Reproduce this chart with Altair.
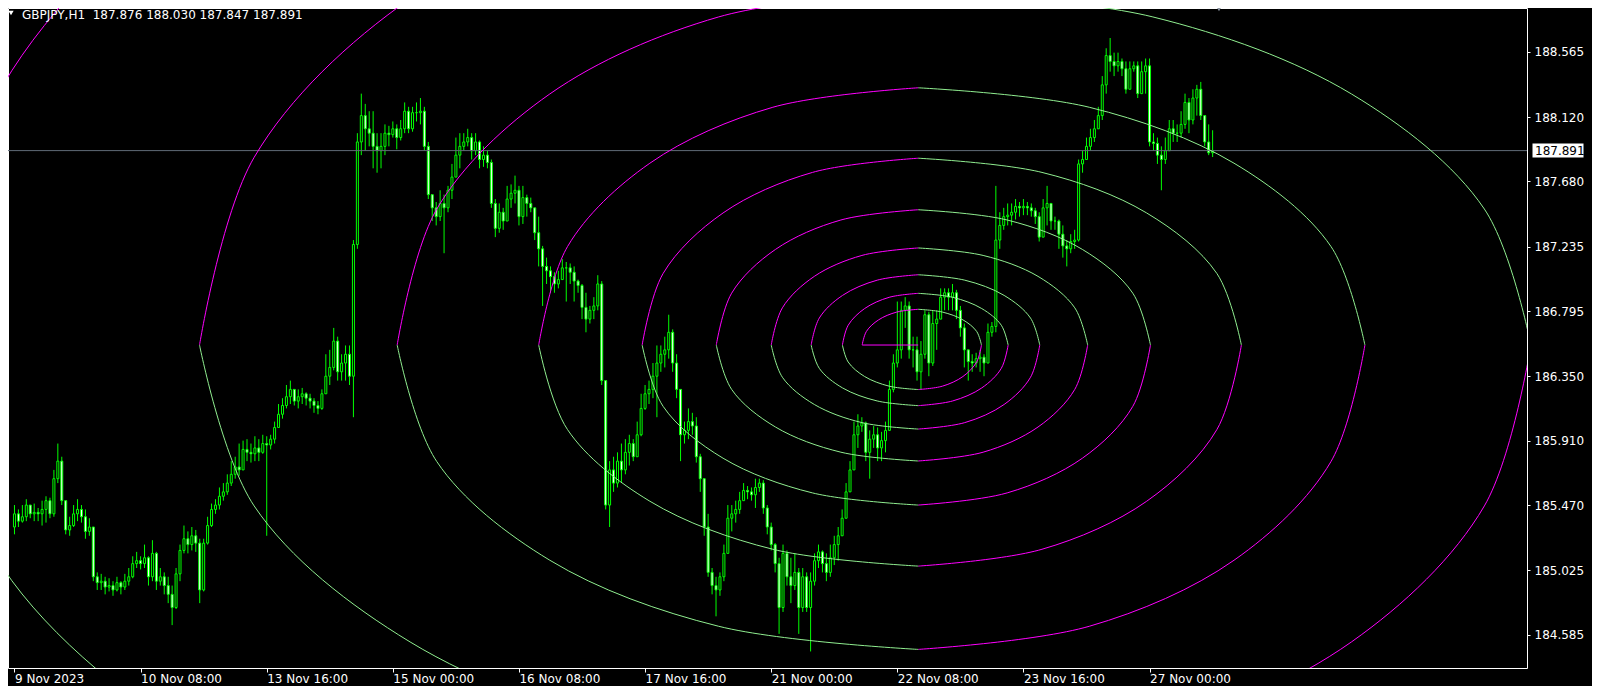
import altair as alt
import pandas as pd

# ---------------- data ----------------
TITLE = "GBPJPY,H1\u00a0\u00a0187.876 188.030 187.847 187.891"
LAST_PRICE = 187.891
PRICE_TICKS = [184.585, 185.025, 185.470, 185.910, 186.350, 186.795, 187.235, 187.680, 188.120, 188.565]
TIME_TICKS = [0, 32, 64, 96, 128, 160, 192, 224, 256, 288]
TIME_LABELS = ["9 Nov 2023", "10 Nov 08:00", "13 Nov 16:00", "15 Nov 00:00", "16 Nov 08:00",
               "17 Nov 16:00", "21 Nov 00:00", "22 Nov 08:00", "23 Nov 16:00", "27 Nov 00:00"]

CLOSE = [
    185.41, 185.36, 185.39, 185.47, 185.41, 185.42, 185.41, 185.44, 185.50, 185.41,
    185.65, 185.77, 185.50, 185.30, 185.33, 185.41, 185.44, 185.39, 185.29, 185.32,
    184.98, 184.94, 184.95, 184.91, 184.92, 184.89, 184.94, 184.91, 184.95, 184.98,
    185.07, 185.09, 185.07, 185.11, 184.98, 185.14, 184.95, 184.98, 184.92, 184.86,
    184.77, 185.00, 185.16, 185.24, 185.20, 185.26, 185.21, 184.89, 185.21, 185.33,
    185.44, 185.47, 185.53, 185.56, 185.62, 185.68, 185.73, 185.71, 185.85, 185.83,
    185.82, 185.86, 185.83, 185.89, 185.88, 185.92, 186.00, 186.09, 186.15, 186.21,
    186.26, 186.18, 186.21, 186.23, 186.20, 186.18, 186.15, 186.13, 186.23, 186.35,
    186.41, 186.59, 186.38, 186.44, 186.50, 186.35, 187.25, 187.95, 188.13, 188.04,
    188.01, 187.92, 187.89, 187.92, 188.01, 188.00, 188.04, 187.98, 188.04, 188.16,
    188.04, 188.15, 188.15, 188.16, 187.92, 187.59, 187.50, 187.44, 187.53, 187.50,
    187.62, 187.71, 187.86, 187.92, 187.95, 187.98, 187.89, 187.95, 187.83, 187.86,
    187.81, 187.53, 187.36, 187.47, 187.41, 187.56, 187.60, 187.62, 187.44, 187.57,
    187.53, 187.50, 187.33, 187.22, 187.10, 187.07, 187.03, 186.98, 187.01, 187.09,
    187.09, 187.06, 187.00, 186.97, 186.82, 186.74, 186.80, 186.83, 186.98, 186.32,
    185.47, 185.71, 185.62, 185.77, 185.71, 185.83, 185.89, 185.80, 185.95, 186.13,
    186.23, 186.26, 186.35, 186.44, 186.50, 186.53, 186.65, 186.44, 186.26, 185.95,
    185.98, 186.04, 186.01, 185.80, 185.65, 185.32, 185.01, 184.92, 184.89, 184.98,
    185.14, 185.38, 185.41, 185.44, 185.50, 185.57, 185.56, 185.54, 185.59, 185.62,
    185.45, 185.32, 185.20, 185.07, 184.77, 185.14, 184.98, 184.92, 185.01, 184.77,
    184.98, 184.77, 184.95, 185.09, 185.15, 185.07, 185.01, 185.11, 185.20, 185.26,
    185.38, 185.56, 185.71, 185.95, 186.01, 186.03, 185.83, 185.92, 185.95, 185.86,
    185.91, 185.98, 186.26, 186.44, 186.53, 186.80, 186.83, 186.53, 186.53, 186.38,
    186.50, 186.77, 186.44, 186.71, 186.74, 186.89, 186.92, 186.89, 186.92, 186.80,
    186.68, 186.53, 186.45, 186.44, 186.47, 186.48, 186.44, 186.65, 186.69, 187.28,
    187.38, 187.44, 187.45, 187.47, 187.51, 187.50, 187.51, 187.50, 187.48, 187.44,
    187.30, 187.50, 187.53, 187.41, 187.41, 187.32, 187.24, 187.22, 187.27, 187.28,
    187.80, 187.83, 187.92, 187.98, 188.04, 188.13, 188.34, 188.54, 188.50, 188.47,
    188.50, 188.45, 188.31, 188.45, 188.47, 188.28, 188.43, 188.47, 187.95, 187.94,
    187.86, 187.83, 187.89, 188.04, 188.01, 188.01, 188.07, 188.22, 188.10, 188.25,
    188.31, 188.13, 187.95, 187.876, 187.891,
]

OPEN = [
    185.32, 185.41, 185.36, 185.39, 185.47, 185.41, 185.42, 185.41, 185.44, 185.50,
    185.41, 185.65, 185.77, 185.50, 185.30, 185.33, 185.41, 185.44, 185.39, 185.29,
    185.32, 184.98, 184.94, 184.95, 184.91, 184.92, 184.89, 184.94, 184.91, 184.95,
    184.98, 185.07, 185.09, 185.07, 185.11, 184.98, 185.14, 184.95, 184.98, 184.92,
    184.86, 184.77, 185.00, 185.16, 185.24, 185.20, 185.26, 185.21, 184.89, 185.21,
    185.33, 185.44, 185.47, 185.53, 185.56, 185.62, 185.68, 185.73, 185.71, 185.85,
    185.83, 185.82, 185.86, 185.83, 185.89, 185.88, 185.92, 186.00, 186.09, 186.15,
    186.21, 186.26, 186.18, 186.21, 186.23, 186.20, 186.18, 186.15, 186.13, 186.23,
    186.35, 186.41, 186.59, 186.38, 186.44, 186.50, 186.35, 187.25, 187.95, 188.13,
    188.04, 188.01, 187.92, 187.89, 187.92, 188.01, 188.00, 188.04, 187.98, 188.04,
    188.16, 188.04, 188.15, 188.15, 188.16, 187.92, 187.59, 187.50, 187.44, 187.53,
    187.50, 187.62, 187.71, 187.86, 187.92, 187.95, 187.98, 187.89, 187.95, 187.83,
    187.86, 187.81, 187.53, 187.36, 187.47, 187.41, 187.56, 187.60, 187.62, 187.44,
    187.57, 187.53, 187.50, 187.33, 187.22, 187.10, 187.07, 187.03, 186.98, 187.01,
    187.09, 187.09, 187.06, 187.00, 186.97, 186.82, 186.74, 186.80, 186.83, 186.98,
    186.32, 185.47, 185.71, 185.62, 185.77, 185.71, 185.83, 185.89, 185.80, 185.95,
    186.13, 186.23, 186.26, 186.35, 186.44, 186.50, 186.53, 186.65, 186.44, 186.26,
    185.95, 185.98, 186.04, 186.01, 185.80, 185.65, 185.32, 185.01, 184.92, 184.89,
    184.98, 185.14, 185.38, 185.41, 185.44, 185.50, 185.57, 185.56, 185.54, 185.59,
    185.62, 185.45, 185.32, 185.20, 185.07, 184.77, 185.14, 184.98, 184.92, 185.01,
    184.77, 184.98, 184.77, 184.95, 185.09, 185.15, 185.07, 185.01, 185.11, 185.20,
    185.26, 185.38, 185.56, 185.71, 185.95, 186.01, 186.03, 185.83, 185.92, 185.95,
    185.86, 185.91, 185.98, 186.26, 186.44, 186.53, 186.80, 186.83, 186.53, 186.53,
    186.38, 186.50, 186.77, 186.44, 186.71, 186.74, 186.89, 186.92, 186.89, 186.92,
    186.80, 186.68, 186.53, 186.45, 186.44, 186.47, 186.48, 186.44, 186.65, 186.69,
    187.28, 187.38, 187.44, 187.45, 187.47, 187.51, 187.50, 187.51, 187.50, 187.48,
    187.44, 187.30, 187.50, 187.53, 187.41, 187.41, 187.32, 187.24, 187.22, 187.27,
    187.28, 187.80, 187.83, 187.92, 187.98, 188.04, 188.13, 188.34, 188.54, 188.50,
    188.47, 188.50, 188.45, 188.31, 188.45, 188.47, 188.28, 188.43, 188.47, 187.95,
    187.94, 187.86, 187.83, 187.89, 188.04, 188.01, 188.01, 188.07, 188.22, 188.10,
    188.25, 188.31, 188.13, 187.95, 187.876,
]

HIGH = [
    185.47, 185.44, 185.47, 185.51, 185.47, 185.48, 185.45, 185.50, 185.53, 185.52,
    185.71, 185.89, 185.80, 185.50, 185.39, 185.47, 185.51, 185.47, 185.44, 185.38,
    185.32, 185.01, 185.00, 184.98, 184.97, 184.95, 184.98, 184.95, 185.00, 185.04,
    185.12, 185.15, 185.12, 185.20, 185.12, 185.23, 185.15, 185.04, 185.01, 184.98,
    184.92, 185.04, 185.20, 185.33, 185.29, 185.32, 185.30, 185.24, 185.24, 185.39,
    185.48, 185.51, 185.59, 185.62, 185.68, 185.77, 185.80, 185.89, 185.91, 185.92,
    185.89, 185.94, 185.92, 185.95, 185.94, 185.95, 186.04, 186.16, 186.20, 186.29,
    186.32, 186.26, 186.26, 186.27, 186.24, 186.23, 186.20, 186.18, 186.26, 186.50,
    186.53, 186.68, 186.62, 186.50, 186.56, 186.56, 187.28, 188.01, 188.28, 188.21,
    188.16, 188.16, 188.01, 188.01, 188.07, 188.06, 188.09, 188.07, 188.10, 188.22,
    188.19, 188.19, 188.22, 188.25, 188.19, 187.95, 187.59, 187.54, 187.62, 187.59,
    187.65, 187.80, 187.98, 188.01, 188.01, 188.04, 188.01, 188.01, 187.96, 187.92,
    187.89, 187.83, 187.56, 187.53, 187.50, 187.65, 187.66, 187.72, 187.65, 187.65,
    187.59, 187.57, 187.50, 187.44, 187.24, 187.16, 187.10, 187.06, 187.07, 187.15,
    187.13, 187.12, 187.10, 187.01, 186.98, 186.92, 186.83, 186.89, 187.04, 187.00,
    186.32, 185.77, 185.80, 185.83, 185.89, 185.92, 185.95, 185.92, 186.04, 186.23,
    186.29, 186.32, 186.44, 186.56, 186.56, 186.62, 186.77, 186.67, 186.50, 186.26,
    186.04, 186.13, 186.10, 186.07, 185.82, 185.65, 185.41, 185.04, 184.98, 185.01,
    185.20, 185.47, 185.47, 185.50, 185.56, 185.62, 185.60, 185.59, 185.65, 185.65,
    185.64, 185.47, 185.35, 185.21, 185.11, 185.20, 185.16, 185.11, 185.14, 185.04,
    185.04, 185.01, 185.01, 185.14, 185.20, 185.16, 185.14, 185.20, 185.26, 185.32,
    185.44, 185.62, 185.77, 186.04, 186.09, 186.07, 186.04, 185.98, 186.01, 186.00,
    185.97, 186.04, 186.32, 186.50, 186.86, 186.86, 186.89, 186.86, 186.62, 186.62,
    186.59, 186.80, 186.79, 186.80, 186.80, 186.95, 186.95, 186.95, 186.98, 186.94,
    186.83, 186.71, 186.53, 186.50, 186.51, 186.53, 186.50, 186.71, 186.72, 187.65,
    187.47, 187.50, 187.53, 187.53, 187.56, 187.54, 187.56, 187.54, 187.53, 187.50,
    187.47, 187.56, 187.65, 187.53, 187.44, 187.42, 187.38, 187.28, 187.32, 187.35,
    187.83, 187.89, 187.98, 188.04, 188.10, 188.19, 188.40, 188.59, 188.66, 188.56,
    188.56, 188.52, 188.50, 188.50, 188.50, 188.50, 188.50, 188.52, 188.52, 188.01,
    187.98, 187.92, 187.98, 188.10, 188.10, 188.07, 188.16, 188.28, 188.25, 188.31,
    188.34, 188.36, 188.13, 188.07, 188.030,
]

LOW = [
    185.27, 185.32, 185.35, 185.36, 185.38, 185.36, 185.36, 185.33, 185.35, 185.38,
    185.39, 185.62, 185.47, 185.27, 185.26, 185.32, 185.36, 185.35, 185.24, 185.26,
    184.95, 184.89, 184.89, 184.86, 184.88, 184.85, 184.88, 184.86, 184.89, 184.92,
    184.97, 185.04, 185.03, 185.04, 184.92, 184.95, 184.89, 184.92, 184.86, 184.80,
    184.65, 184.76, 184.95, 185.14, 185.14, 185.16, 185.15, 184.80, 184.88, 185.20,
    185.32, 185.41, 185.44, 185.50, 185.54, 185.60, 185.65, 185.67, 185.71, 185.77,
    185.76, 185.77, 185.77, 185.82, 185.26, 185.85, 185.89, 186.00, 186.06, 186.13,
    186.16, 186.15, 186.13, 186.16, 186.15, 186.13, 186.10, 186.09, 186.12, 186.23,
    186.29, 186.39, 186.32, 186.32, 186.32, 186.29, 186.07, 187.22, 187.86, 187.89,
    187.92, 187.77, 187.74, 187.77, 187.86, 187.92, 187.98, 187.90, 187.96, 188.01,
    188.01, 188.02, 188.09, 188.07, 187.89, 187.56, 187.41, 187.38, 187.41, 187.19,
    187.47, 187.56, 187.71, 187.77, 187.89, 187.92, 187.83, 187.86, 187.77, 187.78,
    187.77, 187.50, 187.30, 187.33, 187.35, 187.41, 187.50, 187.53, 187.38, 187.39,
    187.44, 187.47, 187.28, 187.10, 186.83, 186.98, 186.92, 186.92, 186.95, 187.01,
    186.86, 186.98, 186.86, 186.92, 186.74, 186.65, 186.71, 186.74, 186.80, 186.29,
    185.44, 185.32, 185.56, 185.59, 185.62, 185.68, 185.74, 185.77, 185.86, 185.94,
    186.12, 186.16, 186.20, 186.07, 186.38, 186.41, 186.47, 186.38, 186.20, 185.77,
    185.89, 185.92, 185.95, 185.76, 185.56, 185.26, 184.98, 184.86, 184.71, 184.85,
    184.95, 185.14, 185.29, 185.35, 185.41, 185.53, 185.51, 185.50, 185.45, 185.56,
    185.41, 185.27, 185.16, 185.01, 184.59, 184.74, 184.92, 184.80, 184.89, 184.59,
    184.74, 184.74, 184.47, 184.92, 185.04, 185.01, 184.95, 184.98, 185.06, 185.09,
    185.26, 185.38, 185.56, 185.71, 185.86, 185.97, 185.77, 185.65, 185.86, 185.77,
    185.77, 185.83, 185.98, 186.24, 186.41, 186.47, 186.68, 186.47, 186.41, 186.32,
    186.26, 186.47, 186.35, 186.42, 186.53, 186.77, 186.80, 186.80, 186.80, 186.74,
    186.62, 186.41, 186.32, 186.38, 186.41, 186.38, 186.35, 186.44, 186.62, 186.65,
    187.22, 187.35, 187.38, 187.38, 187.42, 187.44, 187.45, 187.45, 187.44, 187.39,
    187.27, 187.38, 187.38, 187.35, 187.35, 187.22, 187.16, 187.10, 187.19, 187.22,
    187.27, 187.74, 187.83, 187.89, 187.95, 188.04, 188.10, 188.28, 188.43, 188.40,
    188.43, 188.40, 188.28, 188.39, 188.43, 188.25, 188.37, 188.28, 187.92, 187.89,
    187.80, 187.62, 187.80, 187.89, 187.95, 187.95, 187.98, 188.04, 188.01, 188.07,
    188.13, 188.10, 187.92, 187.86, 187.847,
]

# spiral drawing: vertices along the path (bar index, price)
SPIRAL_BAR = [
    229.3, 215.08,
    216.16, 219.25, 223.85, 229.3, 235.45, 240.65, 244.13, 245.35,
    244.13, 240.65, 235.45, 229.3, 221.94, 215.70, 211.53, 210.07,
    211.53, 215.70, 221.94, 229.3, 238.04, 245.43, 250.39, 252.12,
    250.39, 245.43, 238.04, 229.3, 218.90, 210.10, 204.20, 202.14,
    204.20, 210.10, 218.90, 229.3, 241.11, 251.10, 257.80, 260.14,
    257.80, 251.10, 241.11, 229.3, 215.02, 202.94, 194.84, 192.01,
    194.84, 202.94, 215.02, 229.3, 245.77, 259.70, 269.03, 272.3,
    269.03, 259.70, 245.77, 229.3, 209.68, 193.08, 181.96, 178.07,
    181.96, 193.08, 209.68, 229.3, 251.87, 270.96, 283.75, 288.23,
    283.75, 270.96, 251.87, 229.3, 202.47, 179.78, 164.58, 159.26,
    164.58, 179.78, 202.47, 229.3, 260.71, 287.27, 305.07, 311.3,
    305.07, 287.27, 260.71, 229.3, 192.42, 161.22, 140.33, 133.01,
    140.33, 161.22, 192.42, 229.3, 272.71, 309.43, 334.03, 342.64,
    334.03, 309.43, 272.71, 229.3, 178.67, 135.83, 107.15, 97.1,
    107.15, 135.83, 178.67, 229.3, 288.84, 339.22, 372.95, 384.77,
    372.95, 339.22, 288.84, 229.3, 159.46, 100.38, 60.81, 46.95,
    60.81, 100.38, 159.46, 229.3, 311.42, 380.88, 427.41, 443.7,
    427.41, 380.88, 311.42, 229.3, 132.98, 51.49, -3.09, -22.2,
    -3.09, 51.49, 132.98, 229.3,
]
SPIRAL_PRICE = [
    186.563, 186.563,
    186.656, 186.735, 186.788, 186.807, 186.788, 186.735, 186.656, 186.563,
    186.447, 186.348, 186.282, 186.259, 186.282, 186.348, 186.447, 186.563,
    186.698, 186.812, 186.889, 186.916, 186.889, 186.812, 186.698, 186.563,
    186.404, 186.270, 186.181, 186.149, 186.181, 186.270, 186.404, 186.563,
    186.747, 186.902, 187.006, 187.043, 187.006, 186.902, 186.747, 186.563,
    186.343, 186.157, 186.033, 185.989, 186.033, 186.157, 186.343, 186.563,
    186.817, 187.032, 187.175, 187.226, 187.175, 187.032, 186.817, 186.563,
    186.260, 186.003, 185.831, 185.771, 185.831, 186.003, 186.260, 186.563,
    186.917, 187.216, 187.417, 187.487, 187.417, 187.216, 186.917, 186.563,
    186.144, 185.790, 185.553, 185.470, 185.553, 185.790, 186.144, 186.563,
    187.052, 187.465, 187.742, 187.839, 187.742, 187.465, 187.052, 186.563,
    185.985, 185.496, 185.168, 185.053, 185.168, 185.496, 185.985, 186.563,
    187.236, 187.805, 188.187, 188.320, 188.187, 187.805, 187.236, 186.563,
    185.767, 185.093, 184.642, 184.484, 184.642, 185.093, 185.767, 186.563,
    187.492, 188.278, 188.804, 188.988, 188.804, 188.278, 187.492, 186.563,
    185.464, 184.535, 183.912, 183.694, 183.912, 184.535, 185.464, 186.563,
    187.845, 188.929, 189.656, 189.910, 189.656, 188.929, 187.845, 186.563,
    185.046, 183.762, 182.902, 182.600, 182.902, 183.762, 185.046, 186.563,
    188.331, 189.827, 190.829, 191.180,
]
SPIRAL_BREAKS = [0] + list(range(1, len(SPIRAL_BAR), 4))

# ---------------- tables ----------------
n = len(CLOSE)
candles = pd.DataFrame({
    "bar": list(range(n)), "open": OPEN, "high": HIGH, "low": LOW, "close": CLOSE,
})
candles["fill"] = ["#000000" if c >= o else "#ffffff" for o, c in zip(OPEN, CLOSE)]

rows = []
for s in range(len(SPIRAL_BREAKS) - 1):
    col = "#ff00ff" if (s == 0 or (s - 1) % 2 == 0) else "#90ee90"
    for i in range(SPIRAL_BREAKS[s], SPIRAL_BREAKS[s + 1] + 1):
        rows.append({"seg": s, "sx": SPIRAL_BAR[i], "sy": SPIRAL_PRICE[i], "col": col})
spiral = pd.DataFrame(rows)

last = pd.DataFrame({"p": [LAST_PRICE], "lbl": [f"{LAST_PRICE:.3f}"]})
title_df = pd.DataFrame({"t": [TITLE]})

W, H = 1519, 660
xs = alt.Scale(domain=[-0.376, 382.5], nice=False, zero=False)
ys = alt.Scale(domain=[184.357, 188.865], nice=False, zero=False)
FONT = "DejaVu Sans"
LIME = "#00ff00"

label_expr = "[" + ",".join(f"'{t}'" for t in TIME_LABELS) + "][round(datum.value / 32)]"

AX_X = alt.Axis(values=TIME_TICKS, labelExpr=label_expr, labelAlign="left", labelBaseline="alphabetic",
                labelPadding=10, tickSize=4, labelFlush=False, labelOverlap=False, title=None,
                grid=False, domain=False)
AX_Y = alt.Axis(orient="right", values=PRICE_TICKS, format=".3f", tickSize=3, labelPadding=4,
                labelFlush=False, labelOverlap=False, title=None, grid=False, domain=False)

wicks = alt.Chart(candles).mark_rule(color=LIME, strokeWidth=1).encode(
    x=alt.X("bar:Q", scale=xs, axis=AX_X),
    y=alt.Y("low:Q", scale=ys, axis=AX_Y),
    y2="high:Q",
)

bodies = alt.Chart(candles).mark_bar(width=2, stroke=LIME, strokeWidth=1).encode(
    x=alt.X("bar:Q", scale=xs, axis=AX_X),
    y=alt.Y("open:Q", scale=ys, axis=AX_Y),
    y2="close:Q",
    fill=alt.Fill("fill:N", scale=None),
)

price_line = alt.Chart(last).mark_rule(color="#5f6b77", strokeWidth=1).encode(
    y=alt.Y("p:Q", scale=ys, axis=AX_Y)
)

spiral_lines = alt.Chart(spiral).mark_line(strokeWidth=1, clip=True, interpolate="catmull-rom").encode(
    x=alt.X("sx:Q", scale=xs, axis=AX_X),
    y=alt.Y("sy:Q", scale=ys, axis=AX_Y),
    detail="seg:N",
    order="sx:Q",
    color=alt.Color("col:N", scale=None),
)

price_box = alt.Chart(last).mark_tick(orient="horizontal", color="white", opacity=1,
                                      size=51, thickness=14).encode(
    x=alt.value(1550), y=alt.Y("p:Q", scale=ys, axis=AX_Y)
)
price_text = alt.Chart(last).mark_text(align="left", baseline="middle", color="black",
                                       font=FONT, fontSize=12).encode(
    x=alt.value(1527), y=alt.Y("p:Q", scale=ys, axis=AX_Y), text="lbl:N"
)

title_tri = alt.Chart(title_df).mark_point(shape="triangle-down", filled=True, color="white",
                                           size=28, opacity=1).encode(
    x=alt.value(3), y=alt.value(5)
)
title_text = alt.Chart(title_df).mark_text(align="left", baseline="alphabetic", color="white",
                                           font=FONT, fontSize=12).encode(
    x=alt.value(14), y=alt.value(11), text="t:N"
)
shift_tri = alt.Chart(title_df).mark_point(shape="triangle-down", filled=True, color="#8a93a0",
                                           size=55, opacity=1).encode(
    x=alt.value(1211), y=alt.value(0)
)

chart = alt.layer(
    wicks, bodies, price_line, spiral_lines, price_box, price_text,
    title_tri, title_text, shift_tri,
).properties(
    width=W, height=H, background="black",
    autosize=alt.AutoSizeParams(type="none"),
    padding={"left": 0, "top": 0, "right": 65, "bottom": 18},
).configure_view(
    stroke="white", strokeWidth=1, fill="black",
).configure_axis(
    labelFont=FONT, labelFontSize=12, labelColor="white", tickColor="white",
)

chart.save("out.html", embed_options={"renderer": "svg", "actions": False})
